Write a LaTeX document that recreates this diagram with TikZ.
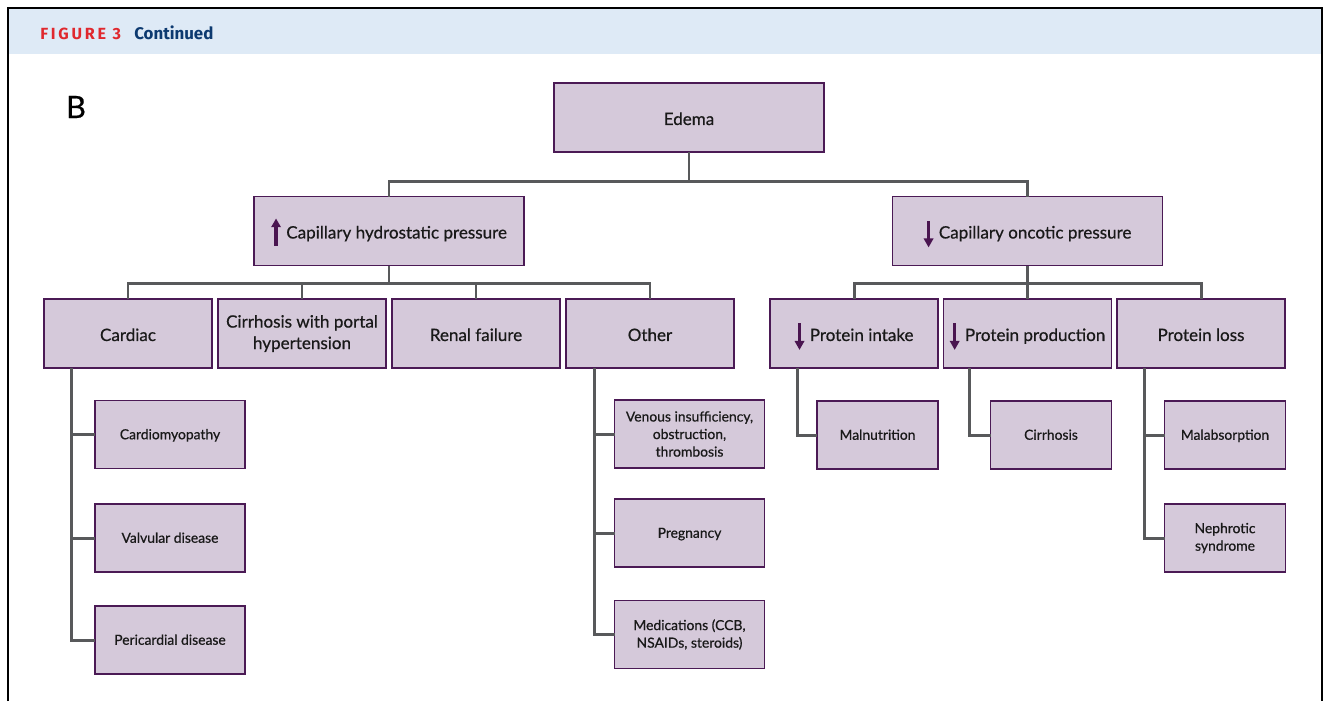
\documentclass[tikz,border=0pt]{standalone}
\usepackage{fontspec}
\setmainfont{Lato}[FakeBold=0.6]
\newfontfamily\headfont{Fira Sans}
\usetikzlibrary{calc}

\definecolor{boxfill}{HTML}{D5C9DA}
\definecolor{boxline}{HTML}{4B1A55}
\definecolor{linkgray}{HTML}{58595B}
\definecolor{headband}{HTML}{DEEAF6}
\definecolor{figred}{HTML}{E0282E}
\definecolor{figblue}{HTML}{0D3A70}
\definecolor{arrowc}{HTML}{4A1550}

% small arrow marks in front of the labels
\newcommand{\uparr}{\smash{\tikz[baseline=0pt,x=1pt,y=1pt]{\fill[arrowc] (-0.95,-4) rectangle (0.95,7); \fill[arrowc] (-2.85,6.4) -- (2.85,6.4) -- (0,11.3) -- cycle;}}\hspace{3pt}}
\newcommand{\downarr}{\smash{\tikz[baseline=0pt,x=1pt,y=1pt]{\fill[arrowc] (-0.95,-0.5) rectangle (0.95,10); \fill[arrowc] (-2.85,0) -- (2.85,0) -- (0,-5) -- cycle;}}\hspace{3pt}}

\begin{document}
\begin{tikzpicture}[x=0.02cm, y=-0.02cm,
        box/.style={draw=boxline, fill=boxfill, line width=0.85pt, align=center, text=black!90, inner sep=2pt, outer sep=0pt, minimum width=3.36cm, minimum height=1.38cm, font=\fontsize{9.7}{12.2}\selectfont},
        oneline/.style={text height=0.9em, text depth=0.05em},
        leafline/.style={text height=0.74em, text depth=0.2em},
        topbox/.style={box, oneline, minimum width=5.4cm},
        leaf/.style={box, minimum width=3cm, minimum height=1.36cm, font=\fontsize{7.9}{10}\selectfont},
        smallleaf/.style={leaf, minimum width=2.42cm},
        link/.style={draw=linkgray, line width=1.7pt}
        ]
        \useasboundingbox (0,0) rectangle (1326,701);

        % Frame and header
        \fill[headband] (9,9) rectangle (1321,54);
        \draw[line width=1.2pt] (8,701) -- (8,8) -- (1322,8) -- (1322,701);
        \node[anchor=base west, inner sep=0pt, text=figred, font=\headfont\bfseries\fontsize{9.2}{10}\selectfont\addfontfeature{LetterSpace=17}] (fig) at (40,39) {FIGURE 3};
        \node[anchor=base west, inner sep=0pt, text=figblue, font=\headfont\bfseries\fontsize{9.6}{10}\selectfont] (cont) at (134,39) {Continued};
        \node[inner sep=0pt, font=\fontsize{17.5}{19}\selectfont] (panel) at (76,107) {B};

        % Main nodes
        \node[topbox] (edema) at (689,117.5) {Edema};
        \node[topbox] (hydro) at (389,231) {\uparr Capillary hydrostatic pressure};
        \node[topbox] (oncotic) at (1027.5,231) {\downarr Capillary oncotic pressure};

        % Second row
        \node[box, oneline] (cardiac) at (128,333.5) {Cardiac};
        \node[box] (cirrport) at (302,333.5) {Cirrhosis with portal\\hypertension};
        \node[box, oneline] (renal) at (476,333.5) {Renal failure};
        \node[box, oneline] (other) at (650,333.5) {Other};
        \node[box, oneline] (intake) at (854,333.5) {\downarr Protein intake};
        \node[box, oneline] (production) at (1027.5,333.5) {\downarr Protein production};
        \node[box, oneline] (loss) at (1201,333.5) {Protein loss};

        % Leaves
        \node[leaf, leafline] (cardmyo) at (170,434.5) {Cardiomyopathy};
        \node[leaf, leafline] (valvular) at (170,538) {Valvular disease};
        \node[leaf, leafline] (pericard) at (170,640) {Pericardial disease};

        \node[leaf] (venous) at (689.5,434) {Venous insufficiency,\\obstruction,\\thrombosis};
        \node[leaf, leafline] (pregnancy) at (689.5,533) {Pregnancy};
        \node[leaf] (meds) at (689.5,634.5) {Medications (CCB,\\NSAIDs, steroids)};

        \node[smallleaf, leafline] (malnut) at (877.5,435) {Malnutrition};
        \node[smallleaf, leafline] (cirrhosis) at (1051,435) {Cirrhosis};
        \node[smallleaf, leafline] (malabs) at (1225,435) {Malabsorption};
        \node[smallleaf] (nephrotic) at (1225,538) {Nephrotic\\syndrome};

        % Bus points
        \coordinate (bus1) at (689,181);
        \coordinate (bus2) at (389,283);
        \coordinate (bus3) at (1027.5,283);

        % Connections
        \draw[link] (edema) -- (bus1);
        \draw[link] (hydro) |- (bus1) -| (oncotic);

        \draw[link] (hydro) -- (bus2);
        \draw[link] (cardiac) |- (bus2) -| (other);
        \draw[link] (cirrport) |- (bus2);
        \draw[link] (renal) |- (bus2);

        \draw[link] (oncotic) -- (bus3);
        \draw[link] (intake) |- (bus3) -| (loss);
        \draw[link] (production) -- (bus3);

        % Side branches
        \path ([xshift=0.54cm]cardiac.south west) coordinate (cardbus);
        \draw[link] (cardbus) |- (pericard);
        \draw[link] (cardmyo) -- (cardmyo -| cardbus);
        \draw[link] (valvular) -- (valvular -| cardbus);

        \path ([xshift=0.56cm]other.south west) coordinate (otherbus);
        \draw[link] (otherbus) |- (meds);
        \draw[link] (venous) -- (venous -| otherbus);
        \draw[link] (pregnancy) -- (pregnancy -| otherbus);

        \path ([xshift=0.54cm]intake.south west) coordinate (intakebus);
        \draw[link] (intakebus) |- (malnut);
        \path ([xshift=0.52cm]production.south west) coordinate (prodbus);
        \draw[link] (prodbus) |- (cirrhosis);
        \path ([xshift=0.54cm]loss.south west) coordinate (lossbus);
        \draw[link] (lossbus) |- (nephrotic);
        \draw[link] (malabs) -- (malabs -| lossbus);
\end{tikzpicture}
\end{document}
